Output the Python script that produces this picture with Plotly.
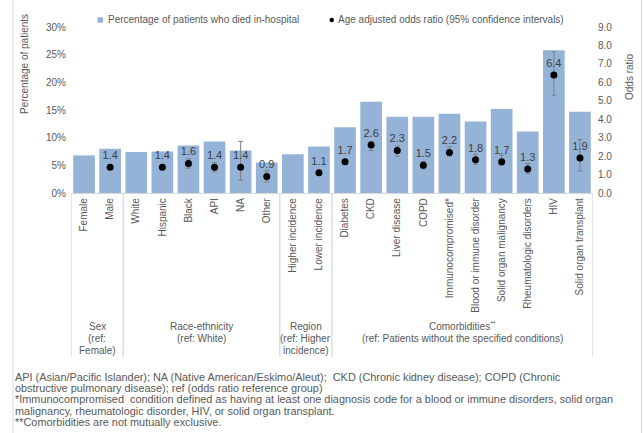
import plotly.graph_objects as go

# ---- data ----
categories = [
    "Female", "Male",
    "White", "Hispanic", "Black", "API", "NA", "Other",
    "Higher incidence", "Lower incidence",
    "Diabetes", "CKD", "Liver disease", "COPD", "Immunocompromised*",
    "Blood or immune disorder", "Solid organ malignancy",
    "Rheumatologic disorders", "HIV", "Solid organ transplant",
]
pct_died = [6.8, 8.0, 7.4, 7.5, 8.6, 9.3, 7.7, 5.5, 7.0, 8.4,
            11.9, 16.5, 13.8, 13.8, 14.3, 12.9, 15.2, 11.1, 25.8, 14.7]
odds_ratio = [None, 1.4, None, 1.4, 1.6, 1.4, 1.4, 0.9, None, 1.1,
              1.7, 2.6, 2.3, 1.5, 2.2, 1.8, 1.7, 1.3, 6.4, 1.9]
ci_low = [None, 1.3, None, 1.3, 1.35, 1.15, 0.7, 0.6, None, 1.0,
          1.6, 2.3, 2.0, 1.3, 2.0, 1.55, 1.5, 1.05, 5.3, 1.2]
ci_high = [None, 1.5, None, 1.5, 1.85, 1.65, 2.8, 1.2, None, 1.2,
           1.8, 2.8, 2.55, 1.7, 2.5, 2.1, 2.05, 1.6, 7.65, 2.9]

group_labels = [
    "Sex<br>(ref:<br>Female)",
    "Race-ethnicity<br>(ref: White)",
    "Region<br>(ref: Higher<br>incidence)",
    "Comorbidities<sup>**</sup><br>(ref: Patients without the specified conditions)",
]
group_sizes = [2, 6, 2, 10]

bar_name = "Percentage of patients who died in-hospital"
dot_name = "Age adjusted odds ratio (95% confidence intervals)"
left_title = "Percentage of patients"
right_title = "Odds ratio"
footnotes = [
    "API (Asian/Pacific Islander); NA (Native American/Eskimo/Aleut);&nbsp; CKD (Chronic kidney disease); COPD (Chronic",
    "obstructive pulmonary disease); ref (odds ratio reference group)",
    "*Immunocompromised&nbsp; condition defined as having at least one diagnosis code for a blood or immune disorders, solid organ",
    "malignancy, rheumatologic disorder, HIV, or solid organ transplant.",
    "**Comorbidities are not mutually exclusive.",
]

# ---- styling / geometry ----
FONT = "Liberation Sans, Arial, sans-serif"
GREY = "#595959"
BAR = "#95b3d7"
LINE = "#d9d9d9"
W_FIG, H_FIG = 644, 433
L, R, T, B = 71, 593, 27, 193
PW, PH = R - L, B - T


def px(x):
    return (x - L) / PW


def py(y):
    return (B - y) / PH


idx = list(range(len(categories)))

# odds ratios exist only for the non-reference categories
or_idx = [i for i, o in enumerate(odds_ratio) if o is not None]
or_vals = [odds_ratio[i] for i in or_idx]
err_plus = [ci_high[i] - odds_ratio[i] for i in or_idx]
err_minus = [odds_ratio[i] - ci_low[i] for i in or_idx]
or_text = [f"{v:.1f}" for v in or_vals]

fig = go.Figure()
fig.add_trace(go.Bar(
    x=idx, y=pct_died, name=bar_name, marker=dict(color=BAR, line_width=0),
    yaxis="y", showlegend=False,
))
fig.add_trace(go.Scatter(
    x=or_idx, y=or_vals, name=dot_name, yaxis="y2", mode="markers+text",
    marker=dict(color="black", size=7),
    text=or_text, textposition="top center",
    textfont=dict(family=FONT, size=11, color="#404040"),
    error_y=dict(type="data", array=err_plus, arrayminus=err_minus,
                 color="#7f7f7f", thickness=1, width=2.5),
    showlegend=False, cliponaxis=False,
))

shapes = []
annotations = []

# group separators and group captions below the category labels
bounds = [-0.5]
for s in group_sizes:
    bounds.append(bounds[-1] + s)
for b in bounds:
    shapes.append(dict(type="line", xref="x", yref="paper", x0=b, x1=b,
                       y0=0, y1=py(357), line=dict(color=LINE, width=1.3)))
for g, (a, b) in zip(group_labels, zip(bounds[:-1], bounds[1:])):
    for i, line in enumerate(g.split("<br>")):
        annotations.append(dict(
            xref="x", yref="paper", x=(a + b) / 2, y=py(326 + 12 * i),
            text=line, showarrow=False, xanchor="center", yanchor="middle",
            font=dict(family=FONT, size=10, color=GREY)))

# outer frame edges
for xp in (13, 641.5):
    shapes.append(dict(type="line", xref="paper", yref="paper",
                       x0=px(xp), x1=px(xp), y0=py(0), y1=py(H_FIG),
                       line=dict(color=LINE, width=1)))

# legend drawn at the top
shapes.append(dict(type="rect", xref="paper", yref="paper",
                   x0=px(97.5), x1=px(103), y0=py(22.8), y1=py(17.3),
                   fillcolor=BAR, line_width=0))
annotations.append(dict(xref="paper", yref="paper", x=px(105.5), y=py(20),
                        text=bar_name, showarrow=False, xanchor="left",
                        yanchor="middle", font=dict(family=FONT, size=10, color=GREY)))
shapes.append(dict(type="circle", xref="paper", yref="paper",
                   x0=px(329.5), x1=px(334), y0=py(22.3), y1=py(17.8),
                   fillcolor="black", line_width=0))
annotations.append(dict(xref="paper", yref="paper", x=px(336), y=py(20),
                        text=dot_name, showarrow=False, xanchor="left",
                        yanchor="middle", font=dict(family=FONT, size=10, color=GREY)))

# axis titles
annotations.append(dict(xref="paper", yref="paper", x=px(24), y=py(64),
                        text=left_title, textangle=-90, showarrow=False,
                        xanchor="center", yanchor="middle",
                        font=dict(family=FONT, size=10, color=GREY)))
annotations.append(dict(xref="paper", yref="paper", x=px(629), y=py(77),
                        text=right_title, textangle=-90, showarrow=False,
                        xanchor="center", yanchor="middle",
                        font=dict(family=FONT, size=10, color=GREY)))

# footnotes
for i, line in enumerate(footnotes):
    annotations.append(dict(xref="paper", yref="paper", x=px(13), y=py(377 + 11.2 * i),
                            text=line, showarrow=False, xanchor="left",
                            yanchor="middle",
                            font=dict(family=FONT, size=10.9, color=GREY)))

fig.update_layout(
    width=W_FIG, height=H_FIG,
    margin=dict(l=L, r=W_FIG - R, t=T, b=H_FIG - B, pad=0),
    paper_bgcolor="white", plot_bgcolor="white",
    font=dict(family=FONT, size=10, color=GREY),
    bargap=0.17,
    xaxis=dict(
        range=[-0.5, len(categories) - 0.5],
        tickmode="array", tickvals=idx, ticktext=categories,
        tickangle=-90, showgrid=False, zeroline=False,
        showline=True, linecolor=LINE, linewidth=1.3, ticks="",
        tickfont=dict(family=FONT, size=10, color=GREY),
    ),
    yaxis=dict(
        range=[0, 30], dtick=5, ticksuffix="%", showgrid=False,
        zeroline=False, showline=False, ticks="",
        tickfont=dict(family=FONT, size=10, color=GREY),
        ticklabelstandoff=4,
    ),
    yaxis2=dict(
        range=[0, 9], dtick=1, tickformat=".1f", overlaying="y",
        side="right", showgrid=False, zeroline=False, showline=False,
        ticks="", tickfont=dict(family=FONT, size=10, color=GREY),
        ticklabelstandoff=4,
    ),
    shapes=shapes,
    annotations=annotations,
    showlegend=False,
)

fig.write_html("out.html")
